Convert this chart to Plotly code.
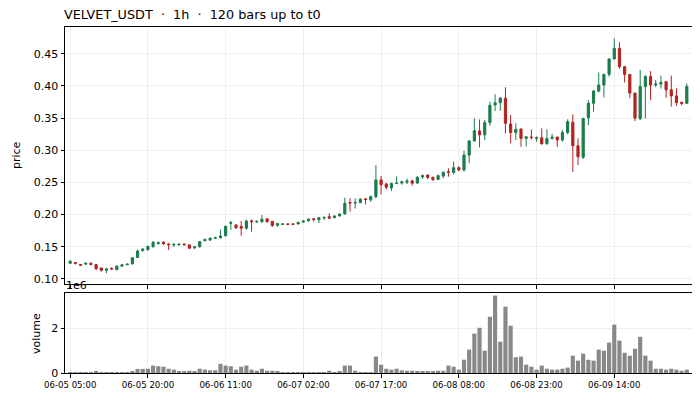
import plotly.graph_objects as go

title_text = "VELVET_USDT  ·  1h  ·  120 bars up to t0"

open_ = [
    .1245, .1255, .1225, .1230, .1245, .1225, .1170, .1135, .1165, .1145,
    .1200, .1220, .1235, .1335, .1440, .1455, .1500, .1550, .1570, .1545,
    .1530, .1532, .1542, .1530, .1485, .1500, .1595, .1605, .1632, .1640,
    .1670, .1865, .1840, .1815, .1790, .1905, .1885, .1890, .1935, .1895,
    .1835, .1848, .1855, .1855, .1855, .1885, .1905, .1935, .1920, .1948,
    .1968, .1953, .1980, .2010, .2190, .2180, .2190, .2245, .2230, .2280,
    .2540, .2475, .2415, .2485, .2490, .2505, .2525, .2490, .2585, .2615,
    .2580, .2548, .2600, .2668, .2655, .2730, .2695, .2925, .3145, .3300,
    .3240, .3430, .3705, .3740, .3810, .3410, .3275, .3330, .3185, .3205,
    .3185, .3195, .3100, .3185, .3205, .3160, .3275, .3435, .3070, .2890,
    .3505, .3730, .3920, .4015, .4180, .4420, .4585, .4300, .4180, .3890,
    .3490, .3990, .4145, .4015, .4030, .4065, .3940, .3845, .3745, .3730,
]
high = [
    .1290, .1265, .1235, .1255, .1260, .1235, .1180, .1170, .1180, .1210,
    .1235, .1240, .1340, .1455, .1480, .1520, .1590, .1585, .1590, .1550,
    .1555, .1550, .1552, .1535, .1510, .1590, .1625, .1640, .1655, .1770,
    .1825, .1905, .1850, .1900, .1920, .1925, .1910, .1995, .1940, .1905,
    .1875, .1865, .1865, .1865, .1890, .1915, .1940, .1945, .1965, .1975,
    .2020, .1985, .2015, .2263, .2254, .2255, .2255, .2250, .2295, .2770,
    .2600, .2495, .2495, .2595, .2525, .2560, .2540, .2600, .2625, .2625,
    .2590, .2625, .2665, .2720, .2825, .2750, .2990, .3160, .3495, .3480,
    .3470, .3755, .3870, .3830, .3980, .3550, .3420, .3340, .3215, .3325,
    .3215, .3340, .3325, .3255, .3210, .3315, .3480, .3560, .3185, .3505,
    .3780, .3935, .4210, .4190, .4425, .4740, .4680, .4305, .4185, .3890,
    .4250, .4170, .4230, .4095, .4160, .4075, .4160, .3965, .3755, .4040,
]
low = [
    .1235, .1225, .1200, .1225, .1210, .1140, .1115, .1090, .1145, .1135,
    .1190, .1215, .1225, .1325, .1430, .1440, .1490, .1535, .1535, .1450,
    .1500, .1515, .1520, .1470, .1465, .1490, .1585, .1590, .1620, .1630,
    .1665, .1765, .1780, .1672, .1765, .1735, .1870, .1875, .1875, .1810,
    .1810, .1835, .1835, .1835, .1850, .1870, .1895, .1890, .1870, .1915,
    .1930, .1945, .1970, .2000, .2046, .2095, .2175, .2160, .2200, .2255,
    .2315, .2390, .2365, .2475, .2465, .2475, .2450, .2485, .2555, .2555,
    .2525, .2535, .2565, .2590, .2625, .2675, .2665, .2800, .3135, .3045,
    .3160, .3380, .3610, .3615, .3265, .3110, .3160, .3055, .3060, .3165,
    .3135, .3090, .3090, .3165, .3055, .3135, .3250, .2665, .2770, .2865,
    .3390, .3600, .3900, .3820, .4145, .4410, .4265, .4055, .3810, .3455,
    .3470, .3495, .3780, .3980, .3960, .3815, .3680, .3690, .3700, .3725,
]
close = [
    .1275, .1245, .1215, .1245, .1225, .1160, .1135, .1155, .1155, .1200,
    .1220, .1230, .1330, .1435, .1465, .1505, .1570, .1562, .1545, .1532,
    .1538, .1540, .1532, .1478, .1500, .1580, .1615, .1635, .1642, .1668,
    .1820, .1875, .1795, .1790, .1900, .1890, .1895, .1930, .1890, .1830,
    .1860, .1855, .1848, .1850, .1880, .1900, .1930, .1925, .1952, .1955,
    .1945, .1980, .2010, .2176, .2180, .2190, .2240, .2235, .2280, .2540,
    .2465, .2425, .2485, .2490, .2510, .2520, .2488, .2580, .2605, .2578,
    .2545, .2605, .2660, .2660, .2730, .2695, .2925, .3145, .3305, .3240,
    .3430, .3700, .3740, .3810, .3420, .3275, .3325, .3185, .3210, .3200,
    .3195, .3100, .3185, .3205, .3160, .3275, .3445, .3070, .2900, .3495,
    .3730, .3920, .4015, .4180, .4420, .4585, .4300, .4180, .3890, .3500,
    .3990, .4145, .4015, .4030, .4055, .3940, .3845, .3740, .3730, .3990,
]
volume_millions = [
    0.01, 0.01, 0.01, 0.01, 0.01, 0.05, 0.01, 0.01, 0.01, 0.01,
    0.01, 0.02, 0.05, 0.18, 0.18, 0.19, 0.33, 0.30, 0.28, 0.19,
    0.15, 0.07, 0.07, 0.10, 0.06, 0.19, 0.15, 0.12, 0.12, 0.41,
    0.33, 0.30, 0.15, 0.28, 0.33, 0.15, 0.10, 0.19, 0.10, 0.10,
    0.06, 0.04, 0.02, 0.02, 0.04, 0.04, 0.04, 0.04, 0.04, 0.04,
    0.10, 0.04, 0.05, 0.33, 0.33, 0.10, 0.04, 0.04, 0.04, 0.73,
    0.37, 0.19, 0.15, 0.19, 0.12, 0.10, 0.10, 0.06, 0.05, 0.05,
    0.05, 0.10, 0.10, 0.33, 0.28, 0.15, 0.59, 1.04, 1.75, 2.01,
    0.99, 2.50, 3.44, 1.39, 2.95, 2.10, 0.70, 0.73, 0.37, 0.28,
    0.15, 0.33, 0.19, 0.15, 0.15, 0.19, 0.24, 0.77, 0.55, 0.86,
    0.59, 0.55, 1.04, 0.99, 1.35, 2.15, 1.44, 0.90, 0.77, 1.08,
    1.61, 0.77, 0.55, 0.19, 0.19, 0.15, 0.19, 0.15, 0.10, 0.15,
]
tick_index = [0, 15, 30, 45, 60, 75, 90, 105]
tick_labels = ["06-05 05:00", "06-05 20:00", "06-06 11:00", "06-07 02:00",
               "06-07 17:00", "06-08 08:00", "06-08 23:00", "06-09 14:00"]
price_ticks = [0.10, 0.15, 0.20, 0.25, 0.30, 0.35, 0.40, 0.45]

bar_index = list(range(len(close)))

GREEN = "#1b7c4b"
RED = "#b3231f"
GRID = "#efefef"
FONT = "DejaVu Sans"

# page body has an 8px margin: the figure starts at (8, 8) in the window
W, H = 692, 392
ML, MR, MT, MB = 57, 8, 19, 27
PW, PH = W - ML - MR, H - MT - MB  # 627 x 346


def px_x(x_win):
    return (x_win - 8 - ML) / PW


def px_y(y_win):
    return (H - MB - (y_win - 8)) / PH


fig = go.Figure()
fig.add_trace(go.Candlestick(
    x=bar_index, open=open_, high=high, low=low, close=close,
    increasing=dict(line=dict(color=GREEN, width=1), fillcolor=GREEN),
    decreasing=dict(line=dict(color=RED, width=1), fillcolor=RED),
    whiskerwidth=0, xaxis="x", yaxis="y", showlegend=False,
))
fig.add_trace(go.Bar(
    x=bar_index, y=volume_millions, marker=dict(color="#888888", line=dict(width=0)),
    width=0.8, xaxis="x2", yaxis="y2", showlegend=False,
))

axis_common = dict(showline=True, linecolor="black", linewidth=1, mirror=True,
                   ticks="outside", ticklen=3.5, tickwidth=0.8, tickcolor="black",
                   showgrid=True, gridcolor=GRID, gridwidth=0.8, zeroline=False)

fig.update_layout(
    width=W, height=H,
    margin=dict(l=ML, r=MR, t=MT, b=MB),
    paper_bgcolor="white", plot_bgcolor="white",
    font=dict(family=FONT, color="black", size=11),
    boxgap=0.4,
    title=dict(text=title_text, x=(64 - 8) / W, xanchor="left", xref="container",
               y=1 - (15 - 8) / H, yanchor="middle", yref="container",
               font=dict(family=FONT, size=12.8, color="black")),
    xaxis=dict(domain=[0, 1], range=[-1, 120], tickvals=tick_index, ticktext=tick_labels,
               showticklabels=False, rangeslider=dict(visible=False), anchor="y",
               **axis_common),
    yaxis=dict(domain=[px_y(284), 1], range=[0.0922, 0.4916], tickvals=price_ticks,
               tickformat=".2f", tickfont=dict(size=11), anchor="x", **axis_common),
    xaxis2=dict(domain=[0, 1], range=[-1, 120], tickvals=tick_index, ticktext=tick_labels,
                tickfont=dict(size=8.6), anchor="y2", matches="x", **axis_common),
    yaxis2=dict(domain=[0, px_y(293)], range=[0, 3.556], tickvals=[0, 2], ticktext=["0", "2"],
                tickfont=dict(size=11), anchor="x2", **axis_common),
    annotations=[
        dict(text="price", textangle=-90, xref="paper", yref="paper",
             x=px_x(16), y=px_y(155), showarrow=False,
             font=dict(size=11, family=FONT), xanchor="center", yanchor="middle"),
        dict(text="volume", textangle=-90, xref="paper", yref="paper",
             x=px_x(36), y=px_y(333), showarrow=False,
             font=dict(size=11, family=FONT), xanchor="center", yanchor="middle"),
        dict(text="1e6", xref="paper", yref="paper", x=px_x(64), y=px_y(285),
             showarrow=False, font=dict(size=11, family=FONT),
             xanchor="left", yanchor="middle"),
    ],
)

fig.write_html("out.html")
